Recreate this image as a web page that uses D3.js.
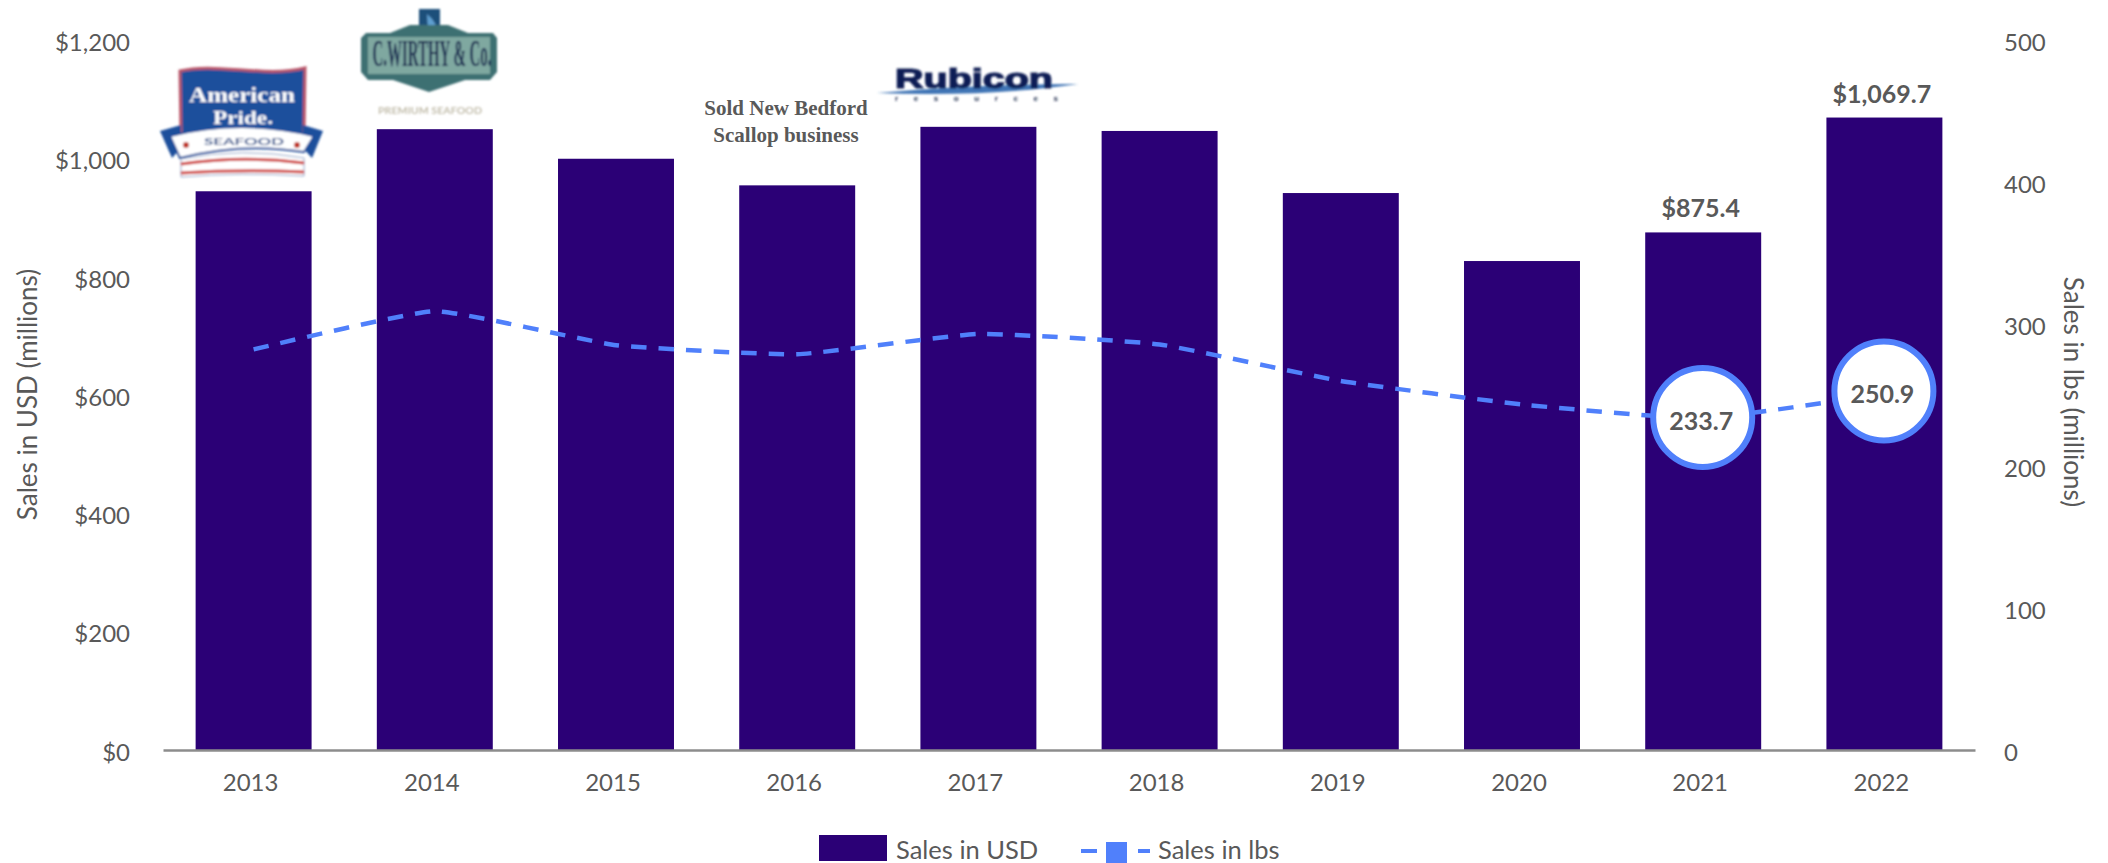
<!DOCTYPE html>
<html>
<head>
<meta charset="utf-8">
<script src="https://cdn.jsdelivr.net/npm/d3@7"></script>
<style>
	html, body { margin: 0; padding: 0; background: #fff; overflow: hidden; }
	text { font-family: Lato, sans-serif; fill: #595959; }
</style>
</head>
<body>
<div id="chart"></div>
<script>
// values
var years = ['2013', '2014', '2015', '2016', '2017', '2018', '2019', '2020', '2021', '2022'];
var salesUsd = [945, 1050, 1000, 955, 1054, 1047, 942, 827, 875.4, 1069.7];
var salesLbs = [282.3, 309.2, 285.3, 278.9, 293.2, 285.8, 260, 243.5, 233.7, 250.9];
var usdTicks = [0, 200, 400, 600, 800, 1000, 1200];
var lbsTicks = [0, 100, 200, 300, 400, 500];
var usdLabelled = ['2021', '2022'];
var lbsLabelled = ['2021', '2022'];

var width = 2108, height = 863;
var padding = { left: 163, right: 133, top: 40.5, bottom: 113 };
var barColor = '#2b0076', lineColor = '#5080fb', baseColor = '#8c8c8c';

var svg = d3.select('#chart').append('svg')
	.attr('width', width)
	.attr('height', height);

var x = d3.scaleBand()
	.domain(years)
	.range([padding.left, width - padding.right])
	.paddingInner(0.36)
	.paddingOuter(0.18);
var yUsd = d3.scaleLinear().domain([0, 1200]).range([height - padding.bottom, padding.top]);
var yLbs = d3.scaleLinear().domain([0, 500]).range([height - padding.bottom, padding.top]);
var center = function (year) { return x(year) + x.bandwidth() / 2; };

// bars
svg.append('g').selectAll('rect')
	.data(years)
	.enter().append('rect')
	.attr('x', function (d) { return x(d); })
	.attr('y', function (d, i) { return yUsd(salesUsd[i]); })
	.attr('width', x.bandwidth())
	.attr('height', function (d, i) { return yUsd(0) - yUsd(salesUsd[i]); })
	.attr('fill', barColor);

// axes
var leftAxis = svg.append('g')
	.attr('transform', 'translate(' + padding.left + ',0)')
	.call(d3.axisLeft(yUsd).tickValues(usdTicks).tickSize(0).tickPadding(33)
		.tickFormat(function (d) { return '$' + d3.format(',')(d); }));
var rightAxis = svg.append('g')
	.attr('transform', 'translate(' + (width - padding.right) + ',0)')
	.call(d3.axisRight(yLbs).tickValues(lbsTicks).tickSize(0).tickPadding(29));
var bottomAxis = svg.append('g')
	.attr('transform', 'translate(0,' + (height - padding.bottom) + ')')
	.call(d3.axisBottom(x).tickSize(0).tickPadding(24));
leftAxis.select('.domain').remove();
rightAxis.select('.domain').remove();
bottomAxis.select('.domain').attr('stroke', baseColor).attr('stroke-width', 2.5);
svg.selectAll('.tick text').style('font-size', '24px').style('font-family', 'Lato, sans-serif');
leftAxis.selectAll('.tick text').attr('dy', '0.42em');
rightAxis.selectAll('.tick text').attr('dy', '0.42em');
bottomAxis.selectAll('.tick text').attr('dx', -3);

svg.append('text')
	.attr('transform', 'translate(36.5,394.5) rotate(-90)')
	.attr('text-anchor', 'middle')
	.style('font-size', '26px')
	.text('Sales in USD (millions)');
svg.append('text')
	.attr('transform', 'translate(2064,392) rotate(90)')
	.attr('text-anchor', 'middle')
	.style('font-size', '26px')
	.text('Sales in lbs (millions)');

// dashed line
var line = d3.line()
	.x(function (d, i) { return center(years[i]); })
	.y(function (d) { return yLbs(d); })
	.curve(d3.curveCardinal.tension(0.6));
svg.append('path')
	.datum(salesLbs)
	.attr('d', line)
	.attr('fill', 'none')
	.attr('stroke', lineColor)
	.attr('stroke-width', 4.5)
	.attr('stroke-dasharray', '15.5 12');

// value labels
svg.append('g').selectAll('text')
	.data(usdLabelled)
	.enter().append('text')
	.attr('x', function (d) { return center(d) - 2.5; })
	.attr('y', function (d) { return yUsd(salesUsd[years.indexOf(d)]) - 15; })
	.attr('text-anchor', 'middle')
	.style('font-size', '25px')
	.style('font-weight', 700)
	.text(function (d) { return '$' + d3.format(',.1f')(salesUsd[years.indexOf(d)]); });

// the bubbles sit a little above their points in the picture
var bubbleNudge = [-1, -3];
var bubble = svg.append('g').selectAll('g')
	.data(lbsLabelled)
	.enter().append('g')
	.attr('transform', function (d, i) {
		return 'translate(' + (center(d) - 0.5) + ',' + (yLbs(salesLbs[years.indexOf(d)]) + bubbleNudge[i]) + ')';
	});
bubble.append('circle')
	.attr('r', 49.5)
	.attr('fill', '#fff')
	.attr('stroke', lineColor)
	.attr('stroke-width', 6);
bubble.append('text')
	.attr('x', -1.5)
	.attr('y', 12.5)
	.attr('text-anchor', 'middle')
	.style('font-size', '25px')
	.style('font-weight', 700)
	.text(function (d) { return d3.format('.1f')(salesLbs[years.indexOf(d)]); });

// legend
var legend = svg.append('g');
legend.append('rect').attr('x', 819).attr('y', 835).attr('width', 68).attr('height', 26).attr('fill', barColor);
legend.append('text').attr('x', 896).attr('y', 859).style('font-size', '25.5px').text('Sales in USD');
legend.append('line').attr('x1', 1081).attr('x2', 1097).attr('y1', 851).attr('y2', 851)
	.attr('stroke', lineColor).attr('stroke-width', 4);
legend.append('line').attr('x1', 1138).attr('x2', 1150).attr('y1', 851).attr('y2', 851)
	.attr('stroke', lineColor).attr('stroke-width', 4);
legend.append('rect').attr('x', 1106).attr('y', 842).attr('width', 21).attr('height', 21).attr('fill', lineColor);
legend.append('text').attr('x', 1158).attr('y', 859).style('font-size', '25.5px').text('Sales in lbs');

// annotation
var note = svg.append('g')
	.attr('text-anchor', 'middle')
	.style('font-weight', 700)
	.style('font-size', '21px');
note.append('text').attr('x', 786).attr('y', 115).style('font-family', '"Liberation Serif", serif').text('Sold New Bedford');
note.append('text').attr('x', 786).attr('y', 142).style('font-family', '"Liberation Serif", serif').text('Scallop business');

// logos, rough redraws of the pasted pictures
var defs = svg.append('defs');
defs.append('filter').attr('id', 'soft').append('feGaussianBlur').attr('stdDeviation', 0.8);

function logoText(g, str, px, py, size, color, len, family) {
	return g.append('text')
		.attr('x', px)
		.attr('y', py)
		.attr('text-anchor', 'middle')
		.attr('textLength', len)
		.attr('lengthAdjust', 'spacingAndGlyphs')
		.style('font-family', family || '"Liberation Serif", serif')
		.style('font-weight', 700)
		.style('font-size', size + 'px')
		.style('fill', color)
		.text(str);
}

function drawAmericanPride() {
	var g = svg.append('g').attr('filter', 'url(#soft)');
	g.append('path').attr('d', 'M180 71 C215 62 265 78 305 68 L304 135 L181 135 Z')
		.attr('fill', '#1f4f9c').attr('stroke', '#b9566a').attr('stroke-width', 3);
	logoText(g, 'American', 242, 102, 20, '#fff', 106);
	logoText(g, 'Pride.', 243, 124, 19, '#fff', 60);
	g.append('path').attr('d', 'M160 131 L181 125 L181 148 L172 158 Z').attr('fill', '#1f4f9c');
	g.append('path').attr('d', 'M323 131 L303 125 L303 148 L312 158 Z').attr('fill', '#1f4f9c');
	g.append('path').attr('d', 'M170 136 Q242 118 314 136 L304 152 Q242 142 180 158 Z')
		.attr('fill', '#fff').attr('stroke', '#1f4f9c').attr('stroke-width', 2);
	logoText(g, 'SEAFOOD', 244, 145, 10, '#34558f', 80, 'Lato, sans-serif');
	g.append('circle').attr('cx', 186).attr('cy', 145).attr('r', 3).attr('fill', '#c0392b');
	g.append('circle').attr('cx', 297).attr('cy', 145).attr('r', 3).attr('fill', '#c0392b');
	g.append('path').attr('d', 'M181 159 Q242 147 304 158 L304 176 Q242 172 181 177 Z').attr('fill', '#fff').attr('stroke', '#8fa4c8');
	g.append('path').attr('d', 'M181 164 Q242 155 304 163').attr('fill', 'none').attr('stroke', '#d0413e').attr('stroke-width', 3);
	g.append('path').attr('d', 'M181 173 Q242 169 304 172').attr('fill', 'none').attr('stroke', '#d0413e').attr('stroke-width', 3);
}

function drawWirthy() {
	var g = svg.append('g').attr('filter', 'url(#soft)');
	g.append('rect').attr('x', 419).attr('y', 9).attr('width', 21).attr('height', 27).attr('fill', '#1f4f7a');
	g.append('path').attr('d', 'M427 14 Q439 24 436 34 L428 30 Z').attr('fill', '#5f9fd0');
	g.append('path').attr('d', 'M361 38 L366 33 L390 33 L410 25 L448 25 L468 33 L493 33 L497 38 L497 72 L490 80 L465 80 L429 92 L393 80 L368 80 L361 72 Z')
		.attr('fill', '#3d6f72');
	g.append('rect').attr('x', 368).attr('y', 37).attr('width', 122).attr('height', 37).attr('fill', '#7fa8a0');
	logoText(g, 'C.WIRTHY & Co.', 432, 66, 37, '#14284f', 119);
	logoText(g, 'PREMIUM SEAFOOD', 430, 114, 10, '#c2bdab', 104, 'Lato, sans-serif');
}

function drawRubicon() {
	var g = svg.append('g').attr('filter', 'url(#soft)');
	g.append('path').attr('d', 'M877 93 Q980 84 1078 84 Q990 97 877 93 Z').attr('fill', '#3f74b5');
	logoText(g, 'Rubicon', 974, 88, 28, '#0f1f55', 158, '"Liberation Sans", sans-serif')
		.style('stroke', '#0f1f55').style('stroke-width', 1.2);
	g.append('text')
		.attr('x', 895)
		.attr('y', 101)
		.style('font-family', '"Liberation Sans", sans-serif')
		.style('font-weight', 700)
		.style('font-size', '8px')
		.style('letter-spacing', '15.6px')
		.style('fill', '#22304f')
		.text('resources');
}

drawAmericanPride();
drawWirthy();
drawRubicon();
</script>
</body>
</html>
